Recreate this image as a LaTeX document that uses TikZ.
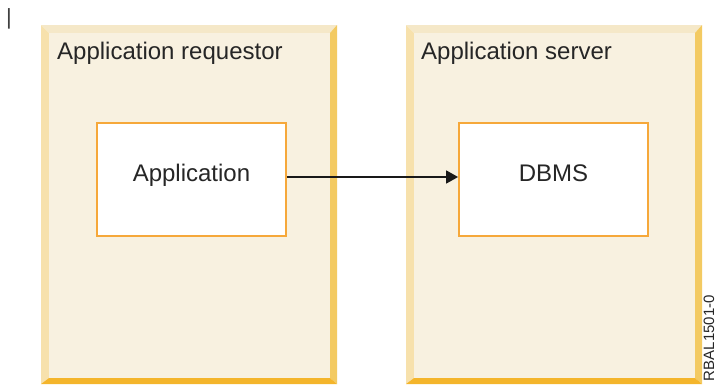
\documentclass[tikz,border=0pt]{standalone}
\usepackage{fontspec}
\setmainfont{Liberation Sans}
\usepackage{xcolor}
\usetikzlibrary{positioning,arrows.meta,calc}

\definecolor{panelfill}{HTML}{F8F1E0}
\definecolor{bandtop}{HTML}{F5E8C8}
\definecolor{bandleft}{HTML}{F7E1AC}
\definecolor{bandright}{HTML}{F3CA62}
\definecolor{bandbot}{HTML}{F4B52B}
\definecolor{boxline}{HTML}{F6A83A}

\tikzset{
  progbox/.style={draw=boxline, line width=1.8pt, fill=white, minimum width=189pt,
    minimum height=113pt, text height=17pt, text depth=14pt, inner sep=0pt},
  bigtext/.style={font=\fontsize{24}{28}\selectfont, text=black!85},
}

\begin{document}
\begin{tikzpicture}[x=1pt,y=-1pt]
        \useasboundingbox (0,0) rectangle (718,384);
        % change bar
        \node[font=\fontsize{22}{26}\selectfont, text=black!75, anchor=north, inner sep=0pt] (bar) at (9,8) {|};
        % panels with bevelled edges
        \foreach \L/\R in {41/337, 406/702} {
          \fill[bandtop] (\L,25) -- (\R,25) -- (\R-7,33) -- (\L+8,33) -- cycle;
          \fill[bandleft] (\L,25) -- (\L+8,33) -- (\L+8,378) -- (\L,384) -- cycle;
          \fill[bandright] (\R,25) -- (\R-7,33) -- (\R-7,378) -- (\R,384) -- cycle;
          \fill[bandbot] (\L,384) -- (\L+8,378) -- (\R-7,378) -- (\R,384) -- cycle;
          \fill[panelfill] (\L+8,33) rectangle (\R-7,378);
        }
        \node[bigtext, anchor=base west, inner sep=0pt] (reqtitle) at (57,59) {Application requestor};
        \node[bigtext, anchor=base west, inner sep=0pt] (srvtitle) at (421,59) {Application server};
        % program boxes
        \node[progbox, bigtext] (app) at (191.5,179.5) {Application};
        \node[progbox, bigtext] (dbms) at (553.5,179.5) {DBMS};
        \draw[line width=1.6pt, black!90, -{Triangle[length=12pt,width=13pt]}] (app.east |- 0,177) -- (dbms.west |- 0,177);
        % figure id
        \node[font=\fontsize{15}{18}\selectfont, text=black!85, rotate=90, anchor=base east, inner sep=0pt] (figid) at (714,295) {RBAL1501-0};
    \end{tikzpicture}
\end{document}
